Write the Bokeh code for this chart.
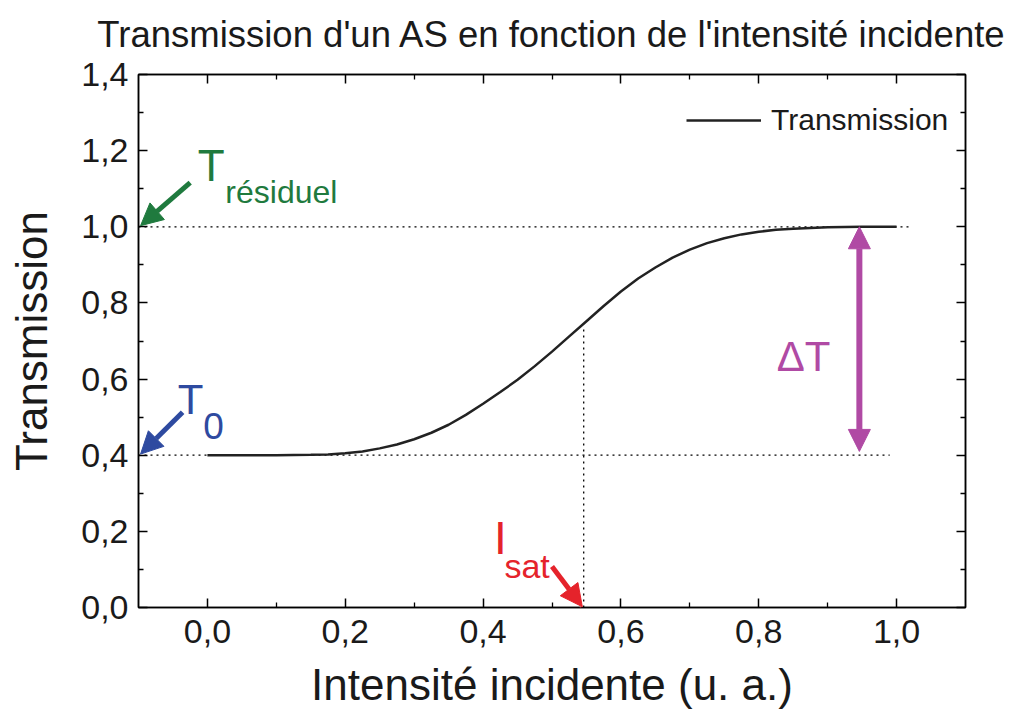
from bokeh.plotting import figure
from bokeh.models import (FixedTicker, CustomJSTickFormatter, LinearAxis, Range1d,
                          Label, Arrow, NormalHead, Legend, LegendItem)
from bokeh.embed import file_html
from bokeh.resources import INLINE

# ---- data ----
intensity = [0.000, 0.050, 0.100, 0.150, 0.175, 0.200, 0.225, 0.250, 0.275, 0.300,
             0.325, 0.350, 0.375, 0.400, 0.425, 0.450, 0.475, 0.500, 0.525, 0.550,
             0.575, 0.600, 0.625, 0.650, 0.675, 0.700, 0.725, 0.750, 0.775, 0.800,
             0.825, 0.850, 0.900, 0.950, 1.000]
transmission = [0.400, 0.400, 0.400, 0.401, 0.402, 0.405, 0.410, 0.418, 0.428, 0.442,
                0.459, 0.480, 0.506, 0.535, 0.566, 0.598, 0.634, 0.672, 0.712, 0.752,
                0.792, 0.830, 0.864, 0.893, 0.919, 0.940, 0.957, 0.970, 0.980, 0.987,
                0.992, 0.995, 0.999, 1.000, 1.000]

x_ticks = [0.0, 0.2, 0.4, 0.6, 0.8, 1.0]
x_minor = [0.1, 0.3, 0.5, 0.7, 0.9]
y_ticks = [0.0, 0.2, 0.4, 0.6, 0.8, 1.0, 1.2, 1.4]
y_minor = [0.1, 0.3, 0.5, 0.7, 0.9, 1.1, 1.3]

x_min, x_max = -0.1, 1.1
y_min, y_max = 0.0, 1.4

t_residuel = 1.0
t_zero = 0.4
i_sat = 0.546
t_at_isat = 0.73
res_line_end = 1.02
t0_line_end = 0.99
delta_x = 0.946

TITLE = "Transmission d'un AS en fonction de l'intensité incidente"

FONT = "Liberation Sans"
TXT = "#1a1a1a"
GREEN = "#1f7a3e"
BLUE = "#2e4aa0"
RED = "#e5232b"
MAGENTA = "#b04aa4"

p = figure(frame_width=827, frame_height=533,
           x_range=Range1d(x_min, x_max), y_range=Range1d(y_min, y_max),
           output_backend="svg", toolbar_location=None,
           min_border_left=138, min_border_right=64,
           min_border_top=74, min_border_bottom=104,
           background_fill_color="white", border_fill_color="white")
p.grid.visible = False
p.outline_line_color = "black"
p.outline_line_width = 1.5

fmt = CustomJSTickFormatter(code="return tick.toFixed(1).replace('.', ',');")
blank = CustomJSTickFormatter(code="return '';")

def style_axis(ax, ticks, minor, formatter, label_size="34px"):
    ax.ticker = FixedTicker(ticks=ticks, minor_ticks=minor)
    ax.formatter = formatter
    ax.axis_line_color = "black"
    ax.axis_line_width = 1.5
    ax.major_tick_in = 9
    ax.major_tick_out = 0
    ax.minor_tick_in = 5
    ax.minor_tick_out = 0
    ax.major_tick_line_width = 1.5
    ax.minor_tick_line_width = 1.3
    ax.major_tick_line_color = "black"
    ax.minor_tick_line_color = "black"
    ax.major_label_text_font = FONT
    ax.major_label_text_font_size = label_size
    ax.major_label_text_color = TXT
    ax.axis_label_text_font = FONT
    ax.axis_label_text_font_style = "normal"
    ax.axis_label_text_color = TXT

style_axis(p.xaxis[0], x_ticks, x_minor, fmt)
style_axis(p.yaxis[0], y_ticks, y_minor, fmt)
p.xaxis[0].axis_label = "Intensité incidente (u. a.)"
p.xaxis[0].axis_label_text_font_size = "44px"
p.xaxis[0].major_label_standoff = 12
p.xaxis[0].axis_label_standoff = 14
p.yaxis[0].axis_label = "Transmission"
p.yaxis[0].axis_label_text_font_size = "44px"
p.yaxis[0].major_label_standoff = 10
p.yaxis[0].axis_label_standoff = 22

# top axis carries the chart title as its label
top = LinearAxis()
style_axis(top, x_ticks, x_minor, blank, "1px")
top.major_label_standoff = 0
top.axis_label = TITLE
top.axis_label_text_font_size = "36.5px"
top.axis_label_standoff = 20
p.add_layout(top, "above")
right = LinearAxis()
style_axis(right, y_ticks, y_minor, blank, "1px")
right.major_label_standoff = 0
p.add_layout(right, "right")

# reference dotted lines
p.line([x_min, res_line_end], [t_residuel, t_residuel], line_color="black",
       line_width=1.3, line_dash="2 4")
p.line([x_min, t0_line_end], [t_zero, t_zero], line_color="black",
       line_width=1.3, line_dash="2 4")
p.line([i_sat, i_sat], [y_min, t_at_isat], line_color="black",
       line_width=1.3, line_dash="2 4")

# transmission curve
curve = p.line(intensity, transmission, line_color="#222222", line_width=2.5)

legend = Legend(items=[LegendItem(label="Transmission", renderers=[curve])],
                location=(548, 470), border_line_color=None,
                background_fill_alpha=0, padding=0, margin=0,
                glyph_width=75, glyph_height=20, label_standoff=10,
                label_text_font=FONT, label_text_font_size="30px",
                label_text_color=TXT)
p.add_layout(legend)

# annotations
def lab(x, y, text, color, size):
    p.add_layout(Label(x=x, y=y, text=text, text_color=color, text_font=FONT,
                       text_font_size=size, text_baseline="alphabetic",
                       text_align="left"))

lab(-0.014, 1.161, "T", GREEN, "44px")
lab(0.026, 1.092, "résiduel", GREEN, "32px")
p.add_layout(Arrow(end=NormalHead(size=22, fill_color=GREEN, line_color=GREEN),
                   x_start=-0.025, y_start=1.116, x_end=x_min + 0.003, y_end=t_residuel + 0.003,
                   line_color=GREEN, line_width=5))

lab(-0.043, 0.547, "T", BLUE, "42px")
lab(-0.006, 0.476, "0", BLUE, "37px")
p.add_layout(Arrow(end=NormalHead(size=22, fill_color=BLUE, line_color=BLUE),
                   x_start=-0.036, y_start=0.513, x_end=x_min + 0.003, y_end=t_zero + 0.003,
                   line_color=BLUE, line_width=5))

lab(0.416, 0.182, "I", RED, "46px")
lab(0.431, 0.108, "sat", RED, "34px")
p.add_layout(Arrow(end=NormalHead(size=22, fill_color=RED, line_color=RED),
                   x_start=0.50, y_start=0.108, x_end=i_sat - 0.002, y_end=y_min + 0.002,
                   line_color=RED, line_width=5))

lab(0.826, 0.66, "ΔT", MAGENTA, "42px")
p.add_layout(Arrow(start=NormalHead(size=22, fill_color=MAGENTA, line_color=MAGENTA),
                   end=NormalHead(size=22, fill_color=MAGENTA, line_color=MAGENTA),
                   x_start=delta_x, y_start=t_zero + 0.01, x_end=delta_x, y_end=t_residuel,
                   line_color=MAGENTA, line_width=6))

open("out.html", "w").write(file_html(p, INLINE))
